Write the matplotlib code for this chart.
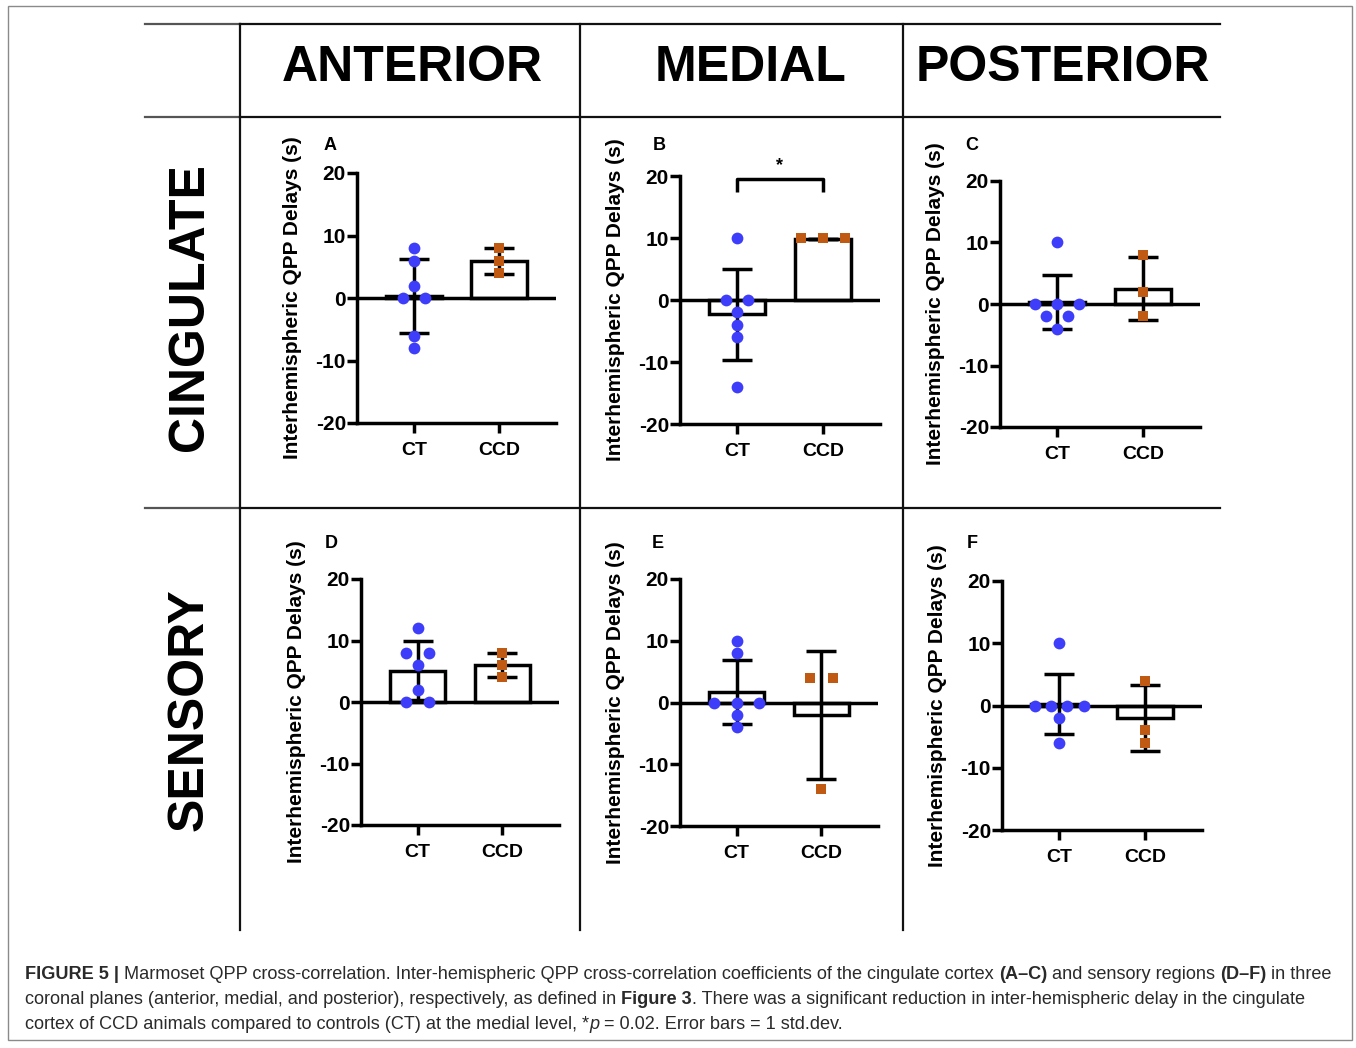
import matplotlib
matplotlib.use("Agg")
import matplotlib.pyplot as plt
import numpy as np
from matplotlib.lines import Line2D
from matplotlib.patches import Rectangle
from matplotlib.font_manager import FontProperties

plt.rcParams['font.family'] = ['Liberation Sans', 'DejaVu Sans']

W, H = 1356, 1048

# ---- data ----
groups = ['CT', 'CCD']
panel_letters = ['A', 'B', 'C', 'D', 'E', 'F']
column_titles = ['ANTERIOR', 'MEDIAL', 'POSTERIOR']
row_titles = ['CINGULATE', 'SENSORY']
y_ticks = [-20, -10, 0, 10, 20]
y_tick_labels = ['-20', '-10', '0', '10', '20']
y_label = 'Interhemispheric QPP Delays (s)'

ct_points = [
    [8, 6, 2, 0, 0, -6, -8],
    [10, 0, 0, -2, -4, -6, -14],
    [10, 0, 0, 0, -2, -2, -4],
    [12, 8, 8, 6, 2, 0, 0],
    [10, 8, 0, 0, 0, -2, -4],
    [10, 0, 0, 0, 0, -2, -6],
]
ccd_points = [
    [8, 6, 4],
    [10, 10, 10],
    [8, 2, -2],
    [8, 6, 4],
    [4, 4, -14],
    [4, -4, -6],
]
ct_mean = [0.3, -2.3, 0.3, 5.1, 1.7, 0.2]
ct_sd = [5.9, 7.3, 4.4, 4.8, 5.2, 4.8]
ccd_mean = [5.9, 9.8, 2.5, 6.0, -2.0, -2.0]
ccd_sd = [2.1, 0.0, 5.1, 2.0, 10.4, 5.25]

# ---- layout (pixel boxes: left, top, right, bottom) ----
boxes = [(357, 173, 556, 423), (680, 176, 880, 424), (1000, 181, 1200, 427),
         (361, 579, 559, 825), (680, 579, 878, 826), (1002, 581, 1202, 830)]
letter_xy = [(330, 146), (659, 146), (972, 146), (331, 543), (658, 543), (972, 543)]

BLUE = '#3d3dfa'
ORANGE = '#c05a12'
LW = 2.5


def fx(px):
    return px / W


def fy(py):
    return 1 - py / H


def swarm(values):
    vals = np.asarray(values, float)
    offs = np.zeros(len(vals))
    for v in np.unique(vals):
        idx = np.where(vals == v)[0]
        n = len(idx)
        step = 0.26 if n < 4 else 0.19
        offs[idx] = (np.arange(n) - (n - 1) / 2) * step
    return offs


fig = plt.figure(figsize=(W / 100, H / 100), dpi=100)

# outer frame and table lines
fig.patches.append(Rectangle((fx(8), fy(1040)), fx(1352) - fx(8), fy(6) - fy(1040),
                             transform=fig.transFigure, fill=False, ec='#8a8a8a', lw=1))
for yy in (24, 117, 508):
    fig.lines.append(Line2D([fx(145), fx(240)], [fy(yy), fy(yy)], transform=fig.transFigure,
                            color='#555555', lw=1.6))
    fig.lines.append(Line2D([fx(240), fx(1220)], [fy(yy), fy(yy)], transform=fig.transFigure,
                            color='#111111', lw=1.6))
for xx in (240, 580, 903):
    fig.lines.append(Line2D([fx(xx), fx(xx)], [fy(24), fy(930)], transform=fig.transFigure,
                            color='#111111', lw=1.6))

for title, cx in zip(column_titles, [412, 751, 1063]):
    fig.text(fx(cx), fy(68), title, ha='center', va='center', fontsize=36, fontweight='bold')
for title, cy in zip(row_titles, [307, 710]):
    fig.text(fx(190), fy(cy), title, ha='center', va='center', fontsize=36,
             fontweight='bold', rotation=90)

for i in range(6):
    l, t, r, b = boxes[i]
    ax = fig.add_axes([fx(l), fy(b), fx(r) - fx(l), fy(t) - fy(b)])
    ax.set_xlim(0.335, 2.665)
    ax.set_ylim(-20, 20)
    ax.patch.set_alpha(0)
    for s in ('top', 'right'):
        ax.spines[s].set_visible(False)
    for s in ('left', 'bottom'):
        ax.spines[s].set_linewidth(LW)
    ax.set_yticks(y_ticks)
    ax.set_yticklabels(y_tick_labels, fontweight='bold', fontsize=15)
    ax.set_xticks([1, 2])
    ax.set_xticklabels(groups, fontweight='bold', fontsize=14)
    ax.tick_params(axis='y', direction='out', length=7, width=LW, pad=1)
    ax.tick_params(axis='x', direction='out', length=7, width=LW, pad=7)

    ax.bar([1, 2], [ct_mean[i], ccd_mean[i]], width=0.65, color='white',
           edgecolor='black', linewidth=LW, zorder=2)
    ax.axhline(0, color='black', lw=LW, zorder=3)
    ax.errorbar([1, 2], [ct_mean[i], ccd_mean[i]], yerr=[ct_sd[i], ccd_sd[i]], fmt='none',
                ecolor='black', elinewidth=LW, capsize=11, capthick=LW, zorder=4)
    ax.scatter(1 + swarm(ct_points[i]), ct_points[i], s=72, color=BLUE, marker='o',
               linewidths=0, zorder=5, clip_on=False)
    ax.scatter(2 + swarm(ccd_points[i]), ccd_points[i], s=60, color=ORANGE, marker='s',
               linewidths=0, zorder=5, clip_on=False)

    ax.set_ylabel(y_label, fontweight='bold', fontsize=15)
    ax.yaxis.set_label_coords(-55 / (r - l), 0.5)

    lx, ly = letter_xy[i]
    fig.text(fx(lx), fy(ly), panel_letters[i], ha='center', va='center',
             fontsize=13, fontweight='bold')

    if i == 1:
        ax.plot([1, 1, 2, 2], [17.4, 19.5, 19.5, 17.4], color='black', lw=LW,
                clip_on=False, zorder=6, solid_capstyle='butt')
        ax.text(1.5, 21.6, '*', ha='center', va='center', fontsize=13, fontweight='bold')

# ---- caption ----
caption = [
    [('FIGURE 5 |', 'bold', 'normal'), (' ', 'normal', 'normal'),
     ('Marmoset QPP cross-correlation. Inter-hemispheric QPP cross-correlation coefficients '
      'of the cingulate cortex ', 'normal', 'normal'),
     ('(A\u2013C)', 'bold', 'normal'), (' and sensory regions ', 'normal', 'normal'),
     ('(D\u2013F)', 'bold', 'normal'), (' in three', 'normal', 'normal')],
    [('coronal planes (anterior, medial, and posterior), respectively, as defined in ',
      'normal', 'normal'),
     ('Figure 3', 'bold', 'normal'),
     ('. There was a significant reduction in inter-hemispheric delay in the cingulate',
      'normal', 'normal')],
    [('cortex of CCD animals compared to controls (CT) at the medial level, *', 'normal', 'normal'),
     ('p', 'normal', 'italic'),
     (' = 0.02. Error bars = 1 std.dev.', 'normal', 'normal')],
]
renderer = fig.canvas.get_renderer()


def seg_width(s, prop):
    w1, _, _ = renderer.get_text_width_height_descent('|' + s + '|', prop, ismath=False)
    w2, _, _ = renderer.get_text_width_height_descent('||', prop, ismath=False)
    return w1 - w2


def line_width(parts, size):
    tot = 0
    for txt, wt, st in parts:
        prop = FontProperties(family=['Liberation Sans'], weight=wt, style=st, size=size)
        tot += seg_width(txt, prop)
    return tot


size0 = 12
cap_size = size0 * (1335 - 25) / line_width(caption[0], size0)
for parts, base in zip(caption, [979, 1004, 1029]):
    x = 25
    for txt, wt, st in parts:
        prop = FontProperties(family=['Liberation Sans'], weight=wt, style=st, size=cap_size)
        fig.text(fx(x), fy(base), txt, fontproperties=prop, color='#2a2a2a',
                 ha='left', va='baseline')
        x += seg_width(txt, prop)

fig.savefig('out.png', dpi=100)
